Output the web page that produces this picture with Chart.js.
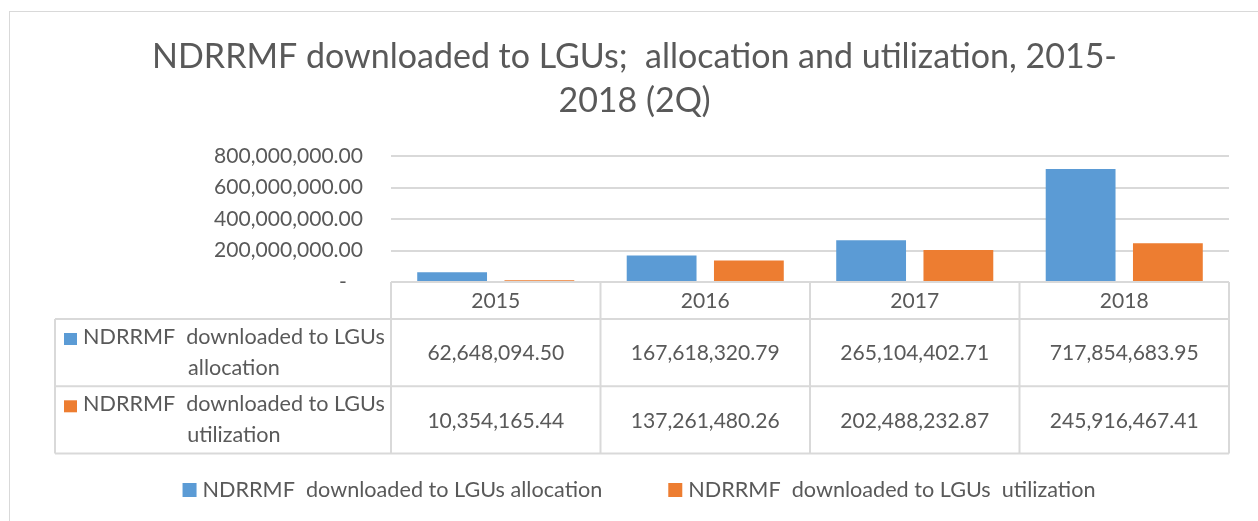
<!DOCTYPE html>
<html>
<head>
<meta charset="utf-8">
<title>NDRRMF downloaded to LGUs</title>
<script src="https://cdn.jsdelivr.net/npm/chart.js@4.4.1/dist/chart.umd.min.js"></script>
<style>
  html, body { margin: 0; padding: 0; background: #fff; overflow: hidden; }
  #wrap { position: relative; width: 1258px; height: 521px; }
  #frame {
    position: absolute; left: 9px; top: 11px; width: 1300px; height: 600px;
    border: 1.5px solid #d9d9d9; box-sizing: border-box;
  }
  #myChart { position: absolute; left: 0; top: 0; }
</style>
</head>
<body>
<div id="wrap">
  <div id="frame"></div>
  <canvas id="myChart" width="1258" height="521"></canvas>
</div>
<script>
const titleLines = [
  "NDRRMF downloaded to LGUs;  allocation and utilization, 2015-",
  "2018 (2Q)",
];
const years = ["2015", "2016", "2017", "2018"];
const seriesNames = [
  "NDRRMF  downloaded to LGUs allocation",
  "NDRRMF  downloaded to LGUs  utilization",
];
const allocation = [62648094.5, 167618320.79, 265104402.71, 717854683.95];
const utilization = [10354165.44, 137261480.26, 202488232.87, 245916467.41];
const yTicks = [0, 200000000, 400000000, 600000000, 800000000];

const family = "Lato, 'Open Sans', sans-serif";
const textColor = "#595959";
const lineColor = "#d9d9d9";
const colors = ["#5b9bd5", "#ed7d31"];

// font sizes picked so the text widths match the picture
function fitSize(text, targetWidth) {
  const ctx = document.createElement("canvas").getContext("2d");
  ctx.font = "100px " + family;
  return (100 * targetWidth) / ctx.measureText(text).width;
}

function splitName(name) {
  const cut = name.lastIndexOf(" ");
  return [name.slice(0, cut).trimEnd(), name.slice(cut + 1)];
}

function formatMoney(value) {
  return value.toLocaleString("en-US", {
    minimumFractionDigits: 2,
    maximumFractionDigits: 2,
  });
}

const titleSize = fitSize(titleLines[0], 965);
const numberSize = fitSize(formatMoney(yTicks[yTicks.length - 1]), 149);
const rowLabelSize = fitSize(splitName(seriesNames[0])[0], 302);
const legendSize = fitSize(seriesNames[0], 400);

const dataTable = {
  id: "dataTable",
  afterDraw(chart) {
    const ctx = chart.ctx;
    const area = chart.chartArea;
    const xScale = chart.scales.x;
    const top = area.bottom;
    const headerBottom = top + 37;
    const rowHeight = 67.3;
    const labelLeft = 55;
    const colWidth = (area.right - area.left) / years.length;
    const bottom = headerBottom + rowHeight * chart.data.datasets.length;

    ctx.save();
    ctx.strokeStyle = lineColor;
    ctx.lineWidth = 2;
    ctx.beginPath();
    ctx.moveTo(labelLeft, headerBottom);
    ctx.lineTo(area.right, headerBottom);
    chart.data.datasets.forEach((ds, i) => {
      const y = headerBottom + rowHeight * (i + 1);
      ctx.moveTo(labelLeft, y);
      ctx.lineTo(area.right, y);
    });
    ctx.moveTo(labelLeft, headerBottom);
    ctx.lineTo(labelLeft, bottom);
    for (let i = 0; i <= years.length; i++) {
      const x = area.left + colWidth * i;
      ctx.moveTo(x, top);
      ctx.lineTo(x, bottom);
    }
    ctx.stroke();

    ctx.fillStyle = textColor;
    ctx.font = numberSize + "px " + family;
    ctx.textAlign = "center";
    ctx.textBaseline = "middle";
    years.forEach((year, i) => {
      ctx.fillText(year, xScale.getPixelForValue(i), (top + headerBottom) / 2 + 1);
    });

    chart.data.datasets.forEach((ds, r) => {
      const rowTop = headerBottom + rowHeight * r;
      ctx.font = numberSize + "px " + family;
      ctx.textAlign = "center";
      ctx.textBaseline = "middle";
      ctx.fillStyle = textColor;
      ds.data.forEach((v, i) => {
        ctx.fillText(formatMoney(v), xScale.getPixelForValue(i), rowTop + rowHeight / 2 + 1);
      });

      ctx.fillStyle = ds.backgroundColor;
      ctx.fillRect(64, rowTop + 14, 13, 12);

      const lines = splitName(ds.label);
      ctx.font = rowLabelSize + "px " + family;
      ctx.textBaseline = "alphabetic";
      ctx.fillStyle = textColor;
      ctx.textAlign = "left";
      ctx.fillText(lines[0], 83, rowTop + 25);
      const mid = 83 + ctx.measureText(lines[0]).width / 2;
      ctx.textAlign = "center";
      ctx.fillText(lines[1], mid, rowTop + 56);
    });
    ctx.restore();
  },
};

const bottomLegend = {
  id: "bottomLegend",
  afterDraw(chart) {
    const ctx = chart.ctx;
    const items = chart.data.datasets;
    const box = 14, gap = 6, spacing = 66;
    ctx.save();
    ctx.font = legendSize + "px " + family;
    const widths = items.map((ds) => box + gap + ctx.measureText(ds.label).width);
    const total = widths.reduce((a, b) => a + b, 0) + spacing * (items.length - 1);
    let x = chart.width / 2 + 10 - total / 2;
    const y = 490;
    items.forEach((ds, i) => {
      ctx.fillStyle = ds.backgroundColor;
      ctx.fillRect(x, y - box / 2, box, box);
      ctx.fillStyle = textColor;
      ctx.textAlign = "left";
      ctx.textBaseline = "alphabetic";
      ctx.fillText(ds.label, x + box + gap, y + 7);
      x += widths[i] + spacing;
    });
    ctx.restore();
  },
};

Chart.defaults.font.family = family;
Chart.defaults.color = textColor;

new Chart(document.getElementById("myChart"), {
  type: "bar",
  data: {
    labels: years,
    datasets: [
      { label: seriesNames[0], data: allocation, backgroundColor: colors[0] },
      { label: seriesNames[1], data: utilization, backgroundColor: colors[1] },
    ],
  },
  options: {
    responsive: false,
    animation: false,
    devicePixelRatio: 1,
    categoryPercentage: 0.833,
    barPercentage: 0.8,
    layout: { padding: { top: 0, left: 40, right: 29, bottom: 68 } },
    plugins: {
      legend: { display: false },
      tooltip: { enabled: false },
      title: {
        display: true,
        text: titleLines,
        color: textColor,
        font: { size: titleSize, weight: "normal", lineHeight: "44px" },
        padding: { top: 35, bottom: 33 },
      },
    },
    scales: {
      x: {
        grid: { display: false },
        border: { display: false },
        ticks: { display: false },
        afterFit(scale) {
          scale.height = 171;
        },
      },
      y: {
        min: 0,
        max: yTicks[yTicks.length - 1],
        border: { display: false },
        grid: { color: lineColor, lineWidth: 2, drawTicks: false },
        afterBuildTicks(scale) {
          scale.ticks = yTicks.map((v) => ({ value: v }));
        },
        ticks: {
          padding: 28,
          font: { size: numberSize },
          color: textColor,
          callback: (v) => (v === 0 ? "-   " : formatMoney(v)),
        },
        afterFit(scale) {
          scale.width = 351;
        },
      },
    },
  },
  plugins: [dataTable, bottomLegend],
});
</script>
</body>
</html>
